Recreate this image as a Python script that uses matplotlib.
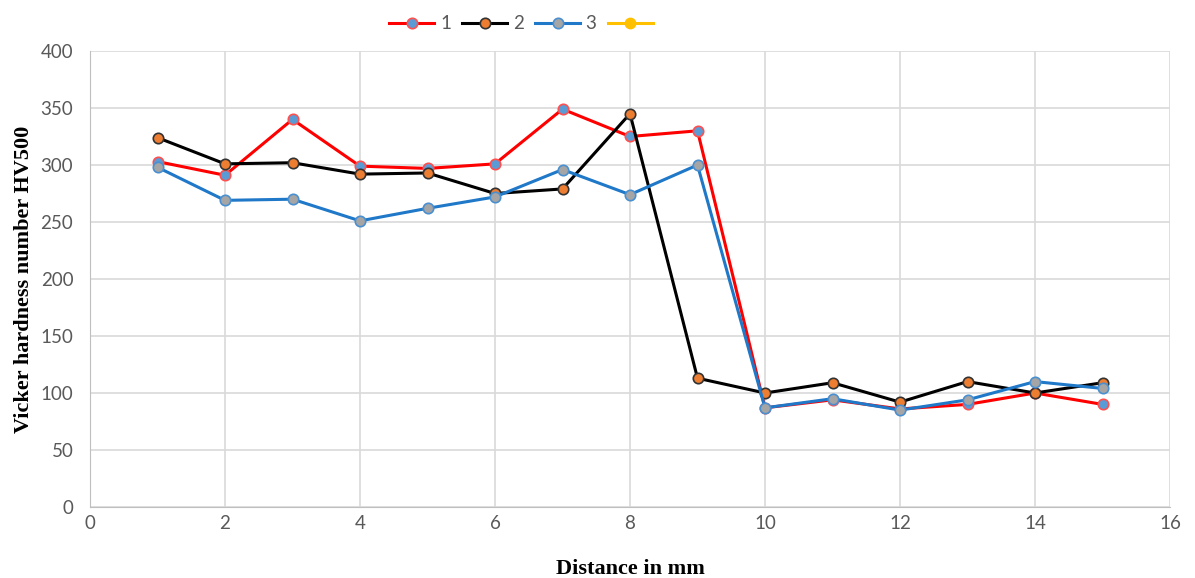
import matplotlib.pyplot as plt

# hardness readings along the distance, three test series
distance = [1, 2, 3, 4, 5, 6, 7, 8, 9, 10, 11, 12, 13, 14, 15]
series_1 = [303, 291, 340, 299, 297, 301, 349, 325, 330, 87, 94, 86, 90, 100, 90]
series_2 = [324, 301, 302, 292, 293, 275, 279, 345, 113, 100, 109, 92, 110, 100, 109]
series_3 = [298, 269, 270, 251, 262, 272, 296, 274, 300, 87, 95, 85, 94, 110, 104]

x_ticks = [0, 2, 4, 6, 8, 10, 12, 14, 16]
y_ticks = [0, 50, 100, 150, 200, 250, 300, 350, 400]

fig = plt.figure(figsize=(11.95, 5.78), dpi=100)
ax = fig.add_axes([90 / 1195, 1 - 507 / 578, 1080 / 1195, 456 / 578])

ax.plot(distance, series_1, color='#ff0000', lw=2.2, marker='o', ms=7.5,
        mfc='#5b9bd5', mec='#ff5050', mew=1.2, label='1', zorder=3)
ax.plot(distance, series_2, color='#000000', lw=2.2, marker='o', ms=7.5,
        mfc='#ed7d31', mec='#333333', mew=1.2, label='2', zorder=3)
ax.plot(distance, series_3, color='#1f78c8', lw=2.2, marker='o', ms=7.5,
        mfc='#a5a5a5', mec='#4a90d0', mew=1.2, label='3', zorder=3)
ax.plot([], [], color='#ffc000', lw=2.2, marker='o', ms=7.5,
        mfc='#ffc000', mec='#ffc000', label=' ')

ax.set_xlim(0, 16)
ax.set_ylim(0, 400)
ax.set_xticks(x_ticks)
ax.set_yticks(y_ticks)
ax.grid(True, color='#d9d9d9', lw=1.2)
ax.set_axisbelow(True)
for side in ['top', 'right']:
    ax.spines[side].set_visible(False)
for side in ['left', 'bottom']:
    ax.spines[side].set_color('#bfbfbf')
ax.tick_params(length=0, labelsize=13.5, labelcolor='#595959')
ax.tick_params(axis='y', pad=12)
ax.tick_params(axis='x', pad=6)
for lab in ax.get_xticklabels() + ax.get_yticklabels():
    lab.set_family('Lato')

ax.set_xlabel('Distance in mm', fontsize=16, fontweight='bold',
              family='Liberation Serif', labelpad=19)
ax.set_ylabel('Vicker hardness number HV500', fontsize=16, fontweight='bold',
              family='Liberation Serif', labelpad=5)

ax.legend(loc='lower center', bbox_to_anchor=(0.404, 1.0), ncol=4, frameon=False,
          prop={'family': 'Lato', 'size': 13.5}, labelcolor='#595959',
          handlelength=2.4, columnspacing=0.6, handletextpad=0.3,
          borderaxespad=0.6)

fig.savefig('out.png', dpi=100)
